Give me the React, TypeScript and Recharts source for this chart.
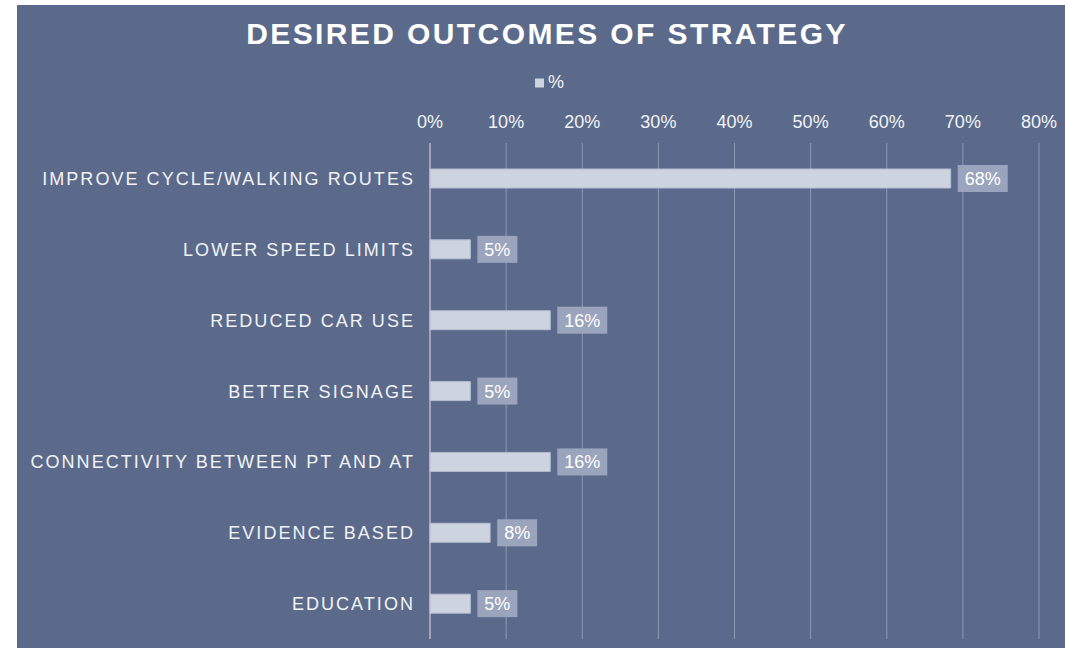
import { BarChart, Bar, XAxis, YAxis, CartesianGrid, LabelList } from 'recharts'

// Survey answers (share of respondents, %)
const outcomes = [
  'IMPROVE CYCLE/WALKING ROUTES',
  'LOWER SPEED LIMITS',
  'REDUCED CAR USE',
  'BETTER SIGNAGE',
  'CONNECTIVITY BETWEEN PT AND AT',
  'EVIDENCE BASED',
  'EDUCATION',
]
const shares = [68.4, 5.3, 15.8, 5.3, 15.8, 7.9, 5.3]
const percentTicks = [0, 10, 20, 30, 40, 50, 60, 70, 80]

const chartData = outcomes.map((name, i) => ({ name, pct: shares[i] }))

const FONT = '"Liberation Sans", Arial, sans-serif'
const BG = '#5B6A8A'
const BAR = '#CDD3DF'
const LABEL_BOX = '#9AA4BD'

// category labels, wide tracking like the original
function CategoryTick({ x, y, payload }: any) {
  return (
    <text
      x={x}
      y={y}
      dy={6.5}
      textAnchor="end"
      fill="#F1F3F7"
      fontSize={18}
      fontFamily={FONT}
      letterSpacing={2.05}
    >
      {payload.value}
    </text>
  )
}

function PercentTick({ x, y, payload }: any) {
  return (
    <text x={x} y={y} textAnchor="middle" fill="#F1F3F7" fontSize={18} fontFamily={FONT}>
      {`${payload.value}%`}
    </text>
  )
}

// boxed value label sitting just right of the bar end
function ValueLabel({ x, y, width, height, value }: any) {
  const text = `${Math.round(value)}%`
  const textW = (text.length - 1) * 10 + 16
  const boxW = textW + 14
  const bx = x + width + 7
  const cy = y + height / 2
  return (
    <g>
      <rect x={bx} y={cy - 13.5} width={boxW} height={27} fill={LABEL_BOX} />
      <text
        x={bx + boxW / 2}
        y={cy + 6.5}
        textAnchor="middle"
        fill="#FFFFFF"
        fontSize={18}
        fontFamily={FONT}
      >
        {text}
      </text>
    </g>
  )
}

export default function App() {
  return (
    <div style={{ position: 'fixed', left: 0, top: 0, width: 1065, height: 648, background: '#FFFFFF' }}>
      <div style={{ position: 'absolute', left: 17, top: 5, width: 1048, height: 643, background: BG }}>
        <BarChart
          width={1048}
          height={643}
          data={chartData}
          layout="vertical"
          margin={{ top: 98, right: 26, bottom: 9, left: 0 }}
          barCategoryGap={0}
        >
          <CartesianGrid horizontal={false} stroke="#8E9AB5" />
          <XAxis
            type="number"
            orientation="top"
            domain={[0, 80]}
            ticks={percentTicks}
            height={40}
            tickSize={0}
            tickMargin={15}
            axisLine={false}
            tickLine={false}
            tick={<PercentTick />}
          />
          <YAxis
            type="category"
            dataKey="name"
            width={413}
            tickSize={0}
            tickMargin={15}
            axisLine={{ stroke: '#D4C2D2' }}
            tickLine={false}
            tick={<CategoryTick />}
            interval={0}
          />
          <Bar dataKey="pct" barSize={19} fill={BAR} stroke="#B5BDD0" strokeWidth={1} isAnimationActive={false}>
            <LabelList dataKey="pct" content={<ValueLabel />} />
          </Bar>
        </BarChart>
        <svg
          width={1048}
          height={100}
          style={{ position: 'absolute', left: 0, top: 0, pointerEvents: 'none' }}
        >
          <text
            x={530}
            y={39.3}
            textAnchor="middle"
            fill="#FFFFFF"
            fontSize={30}
            fontWeight="bold"
            fontFamily={FONT}
            letterSpacing={2.4}
          >
            DESIRED OUTCOMES OF STRATEGY
          </text>
          <rect x={518} y={73.5} width={9} height={9} fill={BAR} />
          <text x={531} y={82.5} fill="#F1F3F7" fontSize={18} fontFamily={FONT}>
            %
          </text>
        </svg>
      </div>
    </div>
  )
}
